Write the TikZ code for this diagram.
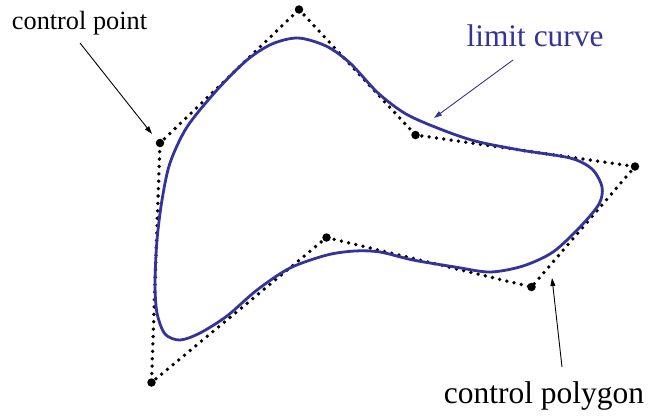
\documentclass[tikz,border=0pt]{standalone}
\usepackage{fontspec}
\setmainfont{Liberation Serif}
\newfontfamily\timesfam{Liberation Serif}
\usetikzlibrary{arrows.meta}
\definecolor{curveblue}{RGB}{51,51,153}
\tikzset{
  cpt/.style={circle,fill=black,inner sep=0pt,minimum size=8.5pt},
  poly/.style={line width=3.8pt,line cap=round,dash pattern=on 0pt off 7.4pt},
  limitc/.style={curveblue,line width=2.8pt},
  lbl/.style={inner sep=0pt,anchor=base},
  pointer/.style={line width=0.9pt,-{Triangle[length=8pt,width=5pt]}}
}
\begin{document}
\begin{tikzpicture}[x=1pt,y=-1pt]
\useasboundingbox (0,0) rectangle (652,418);
% control points
\node[cpt] (p1) at (299,9.5) {};
\node[cpt] (p2) at (415.5,135) {};
\node[cpt] (p3) at (635,166.5) {};
\node[cpt] (p4) at (531.5,287) {};
\node[cpt] (p5) at (326.5,237.5) {};
\node[cpt] (p6) at (151.5,382.5) {};
\node[cpt] (p7) at (160,143) {};
% control polygon
\draw[poly] (p1.center) -- (p2.center) -- (p3.center) -- (p4.center) -- (p5.center) -- (p6.center) -- (p7.center) -- cycle;
% limit curve
\draw[limitc] plot[smooth cycle,tension=0.5] coordinates {
 (298,38) (326,46) (350,63) (378,93) (406,114) (440,129) (475,141) (520,150) (570,158)
 (592,169) (602,187) (599,204) (580,227) (553,252) (523,266) (490,272) (455,267)
 (413,260) (380,252) (355,251) (327,255) (290,268) (257,290) (227,316) (200,333)
 (180,340) (165,334) (157,313) (155,283) (157,240) (162,200) (170,163) (187,127)
 (217,90) (247,60) (272,44)};
% labels
\node[lbl,font=\timesfam\fontsize{26.3}{30}\selectfont] (tcp) at (79.5,29) {control point};
\node[lbl,curveblue,font=\timesfam\fontsize{31.4}{36}\selectfont] (tlc) at (535,46.7) {limit curve};
\node[lbl,font=\timesfam\fontsize{31.5}{36}\selectfont] (tpoly) at (544,403) {control polygon};
% pointers
\coordinate (acp) at (152,134);
\coordinate (alc) at (434,118);
\coordinate (apoly) at (552,278);
\draw[pointer] (80,43) -- (acp);
\draw[pointer,curveblue] (513,60) -- (alc);
\draw[pointer] (562,367) -- (apoly);
\end{tikzpicture}
\end{document}
